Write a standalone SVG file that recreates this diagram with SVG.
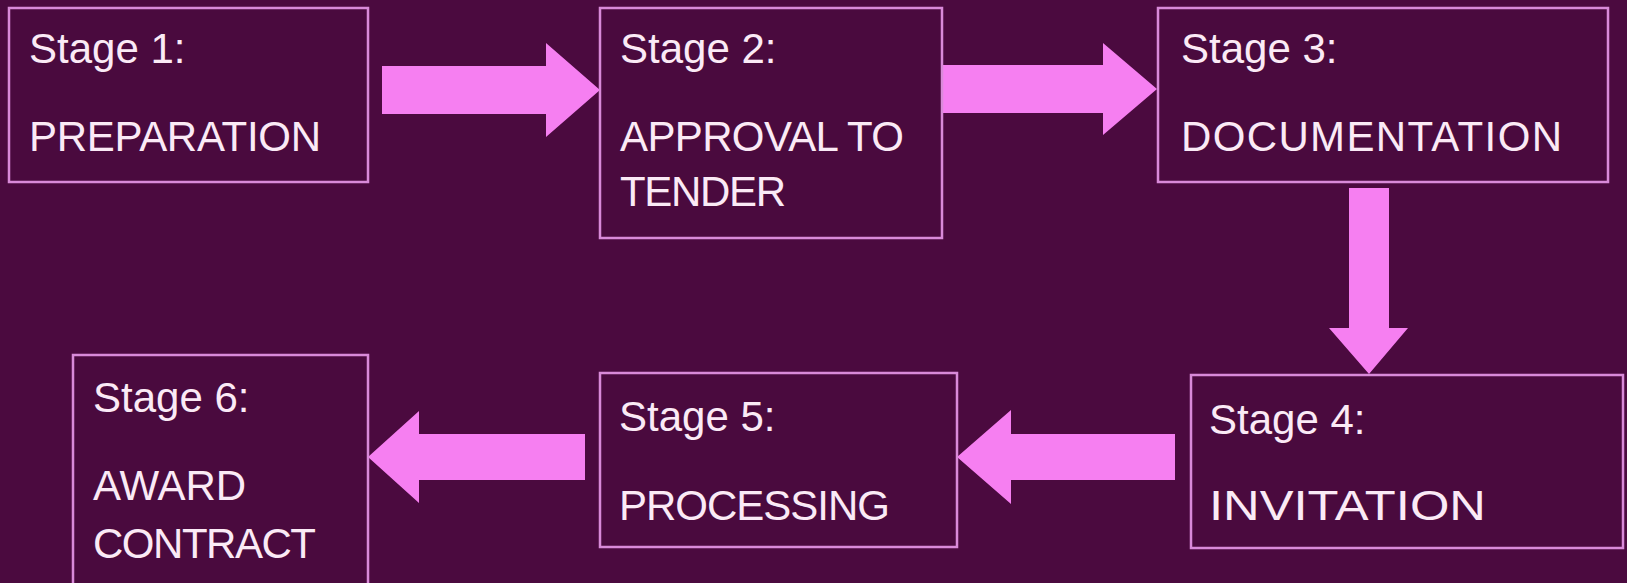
<svg xmlns="http://www.w3.org/2000/svg" width="1627" height="583" viewBox="0 0 1627 583">
  <style>
    .box { fill: #4a0a3e; stroke: #d98ad9; stroke-width: 2.5; }
    .arrow { fill: #f67ff1; }
    text { font-family: "Liberation Sans", Arial, sans-serif; font-size: 42px; fill: #fbeaf6; }
  </style>
  <rect width="1627" height="583" fill="#4b0a3f"/>

  <!-- connectors: block arrows between stages -->
  <g id="connectors">
    <polygon class="arrow" points="382,66 546,66 546,43 600,90 546,137 546,114 382,114"/>
    <polygon class="arrow" points="943,65 1103,65 1103,43 1157,89 1103,135 1103,113 943,113"/>
    <polygon class="arrow" points="1349,188 1389,188 1389,328 1408,328 1369,374 1329,328 1349,328"/>
    <polygon class="arrow" points="1175,434 1011,434 1011,410 957,457 1011,504 1011,480 1175,480"/>
    <polygon class="arrow" points="585,434 419,434 419,411 368,457 419,503 419,480 585,480"/>
  </g>

  <g id="stage1">
    <rect class="box" x="9" y="8" width="359" height="174"/>
    <text x="29" y="63">Stage 1:</text>
    <text x="29" y="151" textLength="292" lengthAdjust="spacing">PREPARATION</text>
  </g>

  <g id="stage2">
    <rect class="box" x="600" y="8" width="342" height="230"/>
    <text x="620" y="63">Stage 2:</text>
    <text x="620" y="151" textLength="284" lengthAdjust="spacing">APPROVAL TO</text>
    <text x="620" y="206" textLength="166" lengthAdjust="spacing">TENDER</text>
  </g>

  <g id="stage3">
    <rect class="box" x="1158" y="8" width="450" height="174"/>
    <text x="1181" y="63">Stage 3:</text>
    <text x="1181" y="151" textLength="381" lengthAdjust="spacing">DOCUMENTATION</text>
  </g>

  <g id="stage4">
    <rect class="box" x="1191" y="375" width="432" height="173"/>
    <text x="1209" y="434">Stage 4:</text>
    <text x="1209" y="520" textLength="277" lengthAdjust="spacingAndGlyphs">INVITATION</text>
  </g>

  <g id="stage5">
    <rect class="box" x="600" y="373" width="357" height="174"/>
    <text x="619" y="431">Stage 5:</text>
    <text x="619" y="520" textLength="271" lengthAdjust="spacing">PROCESSING</text>
  </g>

  <g id="stage6">
    <rect class="box" x="73" y="355" width="295" height="240"/>
    <text x="93" y="412">Stage 6:</text>
    <text x="93" y="500" textLength="153" lengthAdjust="spacing">AWARD</text>
    <text x="93" y="558" textLength="223" lengthAdjust="spacing">CONTRACT</text>
  </g>
</svg>
